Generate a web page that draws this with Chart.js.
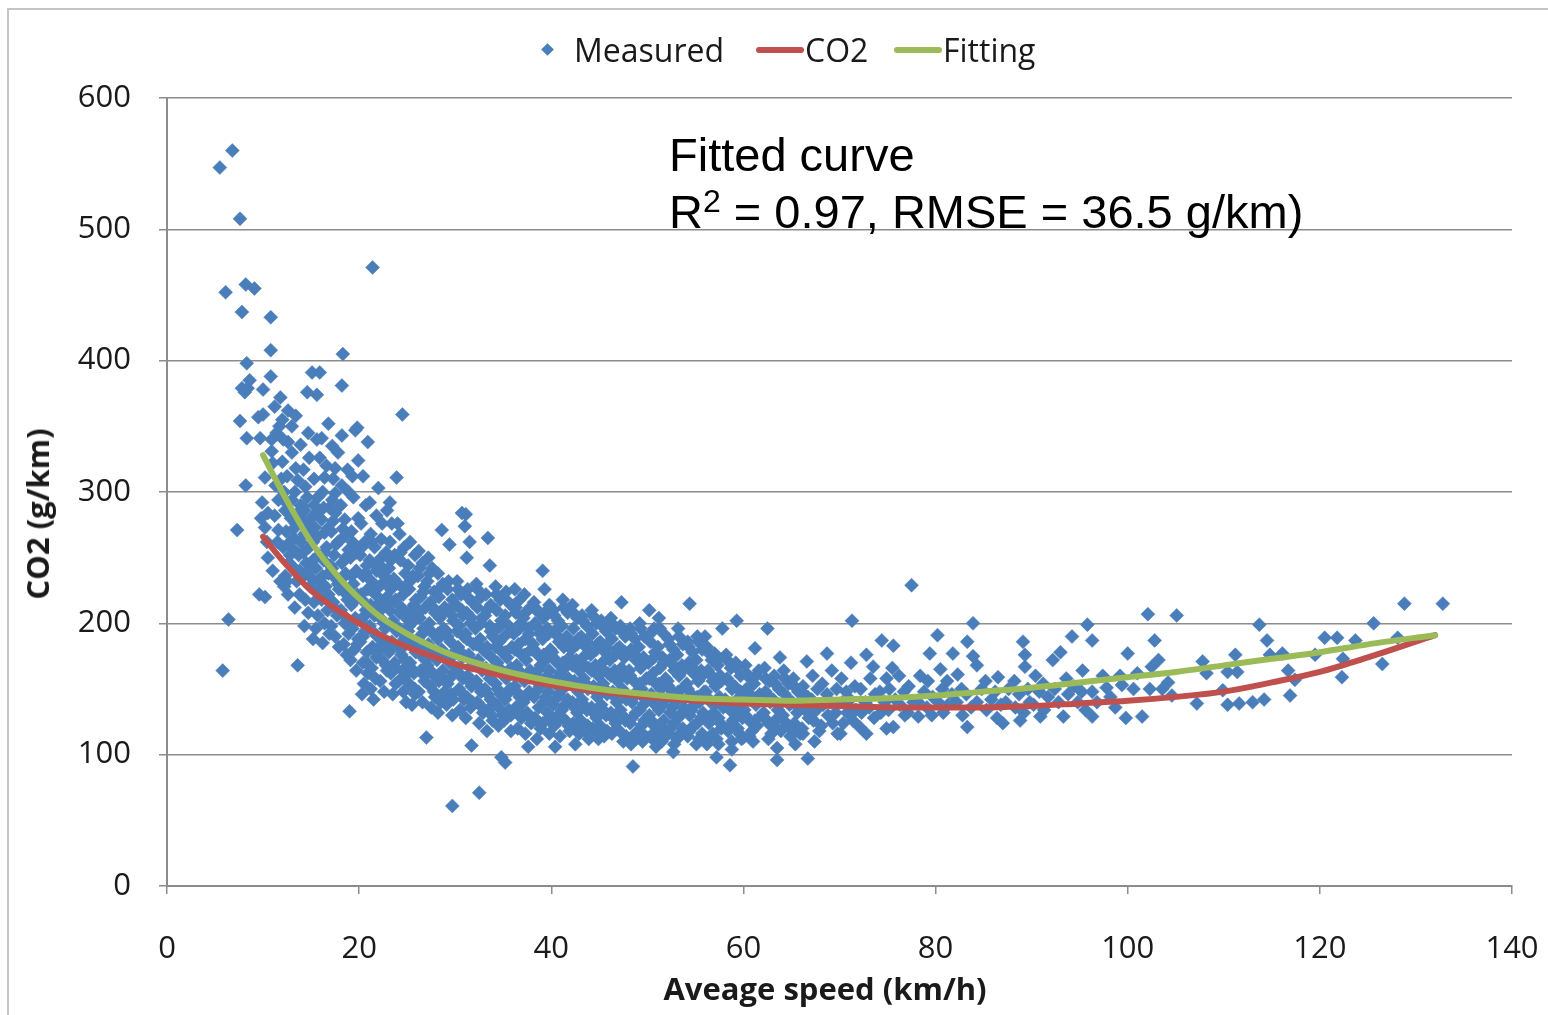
<!DOCTYPE html>
<html>
<head>
<meta charset="utf-8">
<script src="https://cdn.jsdelivr.net/npm/chart.js@4.4.0/dist/chart.umd.min.js"></script>
<style>
  body { margin:0; background:#fff; width:1548px; height:1015px; overflow:hidden; position:relative; font-family:"Open Sans", sans-serif; }
  #frame { position:absolute; left:7px; top:8px; width:1600px; height:1100px; border-top:2px solid #c4c4c4; border-left:2px solid #c4c4c4; }
  #chart { position:absolute; left:0; top:0; }
  .leg { position:absolute; top:30px; font-size:32px; line-height:40px; color:#1a1a1a; white-space:nowrap; }
  .swatch { position:absolute; top:47px; height:6px; border-radius:3px; }
  .note { position:absolute; left:669px; font-family:"Liberation Sans", Arial, sans-serif; font-size:47px; line-height:47px; color:#000; white-space:nowrap; }
  .note sup { font-size:32px; position:relative; top:-3px; vertical-align:top; line-height:32px; }
  .axis-title { position:absolute; font-size:31px; font-weight:bold; line-height:40px; color:#1a1a1a; white-space:nowrap; }
</style>
</head>
<body>
<div id="frame"></div>
<canvas id="chart" width="1548" height="1015"></canvas>

<!-- legende -->
<div style="position:absolute;left:542px;top:44px;width:12px;height:12px;">
  <div style="width:9px;height:9px;background:#4A7EBB;transform:rotate(45deg);margin:1px;"></div>
</div>
<div class="leg" style="left:574px;">Measured</div>
<div class="swatch" style="left:756px;width:48px;background:#C0504D;"></div>
<div class="leg" style="left:805px;">CO2</div>
<div class="swatch" style="left:894px;width:48px;background:#9BBB59;"></div>
<div class="leg" style="left:943px;">Fitting</div>

<!-- titres des axes -->
<div class="axis-title" style="left:825px;top:968px;transform:translateX(-50%);">Aveage speed (km/h)</div>
<div class="axis-title" style="left:37px;top:514px;transform:translate(-50%,-50%) rotate(-90deg);">CO2 (g/km)</div>

<!-- texte dans le graphique -->
<div class="note" style="top:131px;">Fitted curve</div>
<div class="note" style="top:188px;">R<sup>2</sup> = 0.97, RMSE = 36.5 g/km)</div>

<script>
// les courbes (vitesse en km/h, CO2 en g/km)
const curveSpeed   = [10, 12, 15, 18, 20, 22, 25, 28, 30, 35, 40, 45, 50, 55, 60, 65, 70, 75, 80, 85, 90, 95, 100, 105, 110, 115, 120, 125, 132];
const co2Curve     = [266, 248, 225, 209, 200, 192, 182, 174, 169, 160, 153, 148, 144, 141, 139, 138, 137, 136, 136, 136, 137, 139, 141, 144, 148, 155, 163, 174, 191];
const fittingCurve = [328, 300, 262, 234, 219, 206, 192, 181, 175, 164, 156, 150, 146, 143, 142, 141, 142, 143, 145, 148, 151, 155, 159, 163, 168, 173, 178, 184, 191];

// les mesures [vitesse, CO2]
const measured = [
  [5.5,547],[6.8,560],[7.6,508],[6.1,452],[8.2,458],[9.1,455],[7.8,437],[8.3,398],[7.8,379],[8.4,379],[8.1,376],[8.6,385],
  [7.6,354],[8.3,341],[8.2,305],[7.3,271],[6.4,203],[5.8,164],
  [10.8,433],[10.8,408],[10.8,388],[10.0,378],[9.5,357],[10.0,359],[11.2,365],[9.7,341],[10.9,340],[10.9,331],[10.2,311],
  [9.9,292],[10.5,284],[10.2,273],[11.6,294],[11.6,271],[10.2,220],[9.6,222],[10.5,250],[11.0,240],[11.5,262],[11.8,232],
  [11.3,305],[11.0,322],[11.7,350],[10.4,262],[11.2,282],[9.8,280],[11.9,310],
  [12.0,355],[12.6,338],[12.0,323],[12.3,286],[12.2,300],[12.4,270],[12.1,258],[12.7,246],[12.3,236],[12.8,262],[12.5,312],[12.9,280],[12.2,228],[12.6,222],
  [13.0,350],[13.0,330],[13.6,309],[13.0,294],[13.4,276],[13.2,265],[13.7,252],[13.1,243],[13.5,232],[13.8,222],[13.3,212],[13.6,168],[13.9,290],[13.4,318],[13.8,240],[13.2,256],
  [14.1,289],[14.4,304],[14.2,317],[14.6,376],[14.7,345],[14.3,268],[14.8,258],[14.5,246],[14.2,236],[14.9,228],[14.4,218],[14.7,208],[14.1,278],[14.9,270],[14.6,296],[14.3,198],
  [15.1,391],[15.6,374],[15.1,281],[15.4,273],[15.9,326],[15.7,296],[15.3,310],[15.2,262],[15.8,252],[15.5,242],[15.1,234],[15.9,226],[15.3,216],[15.7,206],[15.5,196],[15.2,188],[15.8,286],[15.6,340],
  [15.9,391],[16.1,341],[16.1,279],[16.4,311],[16.4,269],[16.2,300],[16.6,258],[16.3,248],[16.8,238],[16.5,228],[16.1,218],[16.7,210],[16.4,200],[16.9,192],[16.2,185],[16.6,320],[16.9,288],
  [17.2,335],[17.5,318],[17.5,299],[17.2,294],[17.5,284],[17.1,270],[17.8,262],[17.4,252],[17.0,244],[17.6,234],[17.9,226],[17.3,216],[17.7,206],[17.1,198],[17.5,190],[17.9,182],[17.3,310],
  [18.3,405],[18.2,381],[18.2,343],[18.8,317],[18.5,279],[18.1,290],[18.4,266],[18.9,256],[18.2,246],[18.6,238],[18.3,228],[18.8,218],[18.1,210],[18.5,200],[18.9,192],[18.4,184],[18.7,176],[18.2,305],
  [19.8,349],[19.9,324],[19.9,280],[19.6,347],[19.0,133],[19.2,270],[19.5,260],[19.1,250],[19.7,240],[19.4,230],[19.8,222],[19.2,214],[19.6,204],[19.3,196],[19.9,188],[19.5,180],[19.1,172],[19.7,164],[19.4,296],
  [20.2,276],[20.6,262],[20.1,252],[20.8,244],[20.4,236],[20.9,226],[20.3,218],[20.7,210],[20.2,202],[20.6,194],[20.1,186],[20.8,178],[20.4,170],[20.9,162],[20.5,154],[20.3,146],[20.7,290],
  [21.4,471],[21.2,268],[21.6,258],[21.1,248],[21.8,240],[21.3,232],[21.7,222],[21.2,214],[21.6,206],[21.1,198],[21.9,190],[21.4,182],[21.8,174],[21.3,166],[21.7,158],[21.2,150],[21.5,142],
  [22.0,303],[22.4,276],[22.3,264],[22.8,254],[22.2,244],[22.6,236],[22.1,228],[22.9,220],[22.5,212],[22.2,204],[22.7,196],[22.3,188],[22.8,180],[22.4,172],[22.9,164],[22.2,156],[22.6,148],
  [23.4,276],[23.9,311],[23.2,262],[23.7,252],[23.1,242],[23.6,234],[23.3,226],[23.8,218],[23.2,210],[23.5,202],[23.9,194],[23.4,186],[23.1,178],[23.7,170],[23.3,162],[23.8,154],[23.5,146],
  [24.0,276],[24.5,359],[24.2,268],[24.7,258],[24.3,248],[24.8,238],[24.1,230],[24.6,222],[24.4,212],[24.9,204],[24.2,196],[24.7,188],[24.3,180],[24.8,172],[24.5,164],[24.1,156],[24.6,148],[24.9,140],
  [25.3,262],[25.8,252],[25.1,244],[25.6,236],[25.2,226],[25.9,218],[25.4,210],[25.7,202],[25.1,194],[25.5,186],[25.9,178],[25.3,170],[25.7,162],[25.2,154],[25.8,146],[25.5,138],
  [26.2,255],[26.6,246],[26.1,236],[26.8,228],[26.4,220],[26.9,212],[26.3,204],[26.7,196],[26.1,188],[26.5,180],[26.9,172],[26.4,164],[26.8,156],[26.2,148],[26.6,140],
  [27.0,113],[27.2,250],[27.6,242],[27.1,232],[27.8,224],[27.4,216],[27.9,208],[27.3,200],[27.7,192],[27.2,184],[27.6,176],[27.1,168],[27.8,160],[27.4,152],[27.9,144],[27.5,136],
  [28.6,271],[28.2,238],[28.7,230],[28.3,220],[28.9,212],[28.4,204],[28.8,196],[28.2,188],[28.6,180],[28.1,172],[28.7,164],[28.3,156],[28.9,148],[28.5,140],[28.2,132],
  [29.7,61],[29.2,226],[29.7,218],[29.3,210],[29.8,202],[29.1,194],[29.5,186],[29.9,178],[29.4,170],[29.8,162],[29.2,154],[29.6,146],[29.1,138],[29.7,130],[29.4,260],
  [30.7,284],[31.0,274],[31.1,283],[30.2,232],[30.6,222],[30.1,214],[30.8,206],[30.4,198],[30.9,190],[30.3,182],[30.7,174],[30.2,166],[30.8,158],[30.4,150],[30.9,142],[30.5,134],
  [31.7,107],[31.3,226],[31.8,216],[31.2,208],[31.6,200],[31.1,192],[31.9,184],[31.4,176],[31.8,168],[31.3,160],[31.7,152],[31.2,144],[31.6,136],[31.1,128],[31.5,262],[31.2,250],
  [32.5,71],[33.4,265],[33.6,244],[32.2,230],[32.7,220],[32.3,212],[32.8,204],[32.1,196],[32.6,188],[32.9,180],[32.4,172],[32.8,164],[32.2,156],[32.7,148],[32.3,140],[32.9,132],[32.5,124],
  [33.2,222],[33.7,214],[33.1,206],[33.6,198],[33.9,190],[33.3,182],[33.8,174],[33.2,166],[33.6,158],[33.1,150],[33.7,142],[33.4,134],[33.9,126],[33.3,118],
  [34.8,98],[35.2,94],[34.2,228],[34.7,218],[34.3,210],[34.8,202],[34.1,194],[34.6,186],[34.9,178],[34.4,170],[34.8,162],[34.2,154],[34.7,146],[34.3,138],[34.9,130],[34.5,122],
  [35.3,224],[35.8,214],[35.2,206],[35.6,198],[35.1,190],[35.9,182],[35.4,174],[35.8,166],[35.3,158],[35.7,150],[35.2,142],[35.6,134],[35.1,126],[35.8,118],
  [37.6,106],[36.2,226],[36.7,218],[36.3,208],[36.8,200],[36.1,192],[36.6,184],[36.9,176],[36.4,168],[36.8,160],[36.2,152],[36.7,144],[36.3,136],[36.9,128],[36.5,120],
  [37.2,222],[37.8,212],[37.1,204],[37.6,196],[37.3,188],[37.9,180],[37.4,172],[37.8,164],[37.2,156],[37.7,148],[37.1,140],[37.5,132],[37.9,124],[37.3,116],
  [39.1,240],[38.2,216],[38.7,208],[38.3,200],[38.8,192],[38.1,184],[38.6,176],[38.9,168],[38.4,160],[38.8,152],[38.2,144],[38.7,136],[38.3,128],[38.9,120],[38.5,112],
  [39.3,226],[39.8,214],[39.2,204],[39.6,196],[39.1,188],[39.9,180],[39.4,172],[39.8,164],[39.3,156],[39.7,148],[39.2,140],[39.6,132],[39.1,124],[39.8,116],
  [40.4,106],[40.2,210],[40.7,202],[40.3,194],[40.8,186],[40.1,178],[40.6,170],[40.9,162],[40.4,154],[40.8,146],[40.2,138],[40.7,130],[40.3,122],[40.9,114],
  [41.2,218],[41.7,208],[41.1,198],[41.6,190],[41.3,182],[41.9,174],[41.4,166],[41.8,158],[41.2,150],[41.7,142],[41.1,134],[41.5,126],[41.9,118],
  [42.2,214],[42.7,204],[42.3,196],[42.8,188],[42.1,180],[42.6,172],[42.9,164],[42.4,156],[42.8,148],[42.2,140],[42.7,132],[42.3,124],[42.9,116],[42.5,108],
  [43.2,206],[43.7,198],[43.1,190],[43.6,182],[43.3,174],[43.9,166],[43.4,158],[43.8,150],[43.2,142],[43.7,134],[43.1,126],[43.5,118],[43.9,112],
  [44.2,210],[44.7,200],[44.3,192],[44.8,184],[44.1,176],[44.6,168],[44.9,160],[44.4,152],[44.8,144],[44.2,136],[44.7,128],[44.3,120],[44.9,112],
  [45.2,202],[45.7,194],[45.1,186],[45.6,178],[45.3,170],[45.9,162],[45.4,154],[45.8,146],[45.2,138],[45.7,130],[45.1,122],[45.5,114],
  [47.3,216],[46.2,204],[46.7,196],[46.3,188],[46.8,180],[46.1,172],[46.6,164],[46.9,156],[46.4,148],[46.8,140],[46.2,132],[46.7,124],[46.3,116],
  [47.2,198],[47.7,190],[47.1,182],[47.6,174],[47.3,166],[47.9,158],[47.4,150],[47.8,142],[47.2,134],[47.7,126],[47.1,118],[47.5,110],
  [48.5,91],[48.2,196],[48.7,188],[48.3,180],[48.8,172],[48.1,164],[48.6,156],[48.9,148],[48.4,140],[48.8,132],[48.2,124],[48.7,116],[48.3,108],
  [49.2,200],[49.7,190],[49.1,182],[49.6,174],[49.3,166],[49.9,158],[49.4,150],[49.8,142],[49.2,134],[49.7,126],[49.1,118],[49.5,110],
  [50.2,210],[50.7,196],[50.3,186],[50.8,178],[50.1,170],[50.6,162],[50.9,154],[50.4,146],[50.8,138],[50.2,130],[50.7,122],[50.3,114],[50.9,106],
  [51.2,204],[51.7,192],[51.1,182],[51.6,174],[51.3,166],[51.9,158],[51.4,150],[51.8,142],[51.2,134],[51.7,126],[51.1,118],[51.5,110],
  [52.2,188],[52.7,180],[52.3,172],[52.8,164],[52.1,156],[52.6,148],[52.9,140],[52.4,132],[52.8,124],[52.2,116],[52.7,102],
  [53.2,196],[53.7,184],[53.1,176],[53.6,168],[53.3,160],[53.9,152],[53.4,144],[53.8,136],[53.2,128],[53.7,120],[53.1,112],
  [54.4,215],[54.2,186],[54.7,178],[54.3,170],[54.8,162],[54.1,154],[54.6,146],[54.9,138],[54.4,130],[54.8,122],[54.2,114],
  [55.2,190],[55.7,180],[55.1,172],[55.6,164],[55.3,156],[55.9,148],[55.4,140],[55.8,132],[55.2,124],[55.7,116],[55.1,108],
  [56.0,190],[57.0,177],[57.8,196],[57.2,98],[56.2,182],[56.7,172],[56.3,164],[56.8,156],[56.1,148],[56.6,140],[56.9,132],[56.4,124],[56.8,116],[56.2,108],
  [57.3,168],[57.6,160],[57.1,152],[57.5,144],[57.9,136],[57.4,128],[57.7,120],[57.2,112],
  [59.3,202],[58.8,104],[58.6,92],[58.2,176],[58.7,166],[58.3,158],[58.8,150],[58.1,142],[58.6,134],[58.9,126],[58.4,118],[58.8,110],
  [59.2,170],[59.7,160],[59.1,152],[59.6,144],[59.3,136],[59.9,128],[59.4,120],[59.8,112],
  [60.0,113],[61.0,110],[61.2,181],[60.2,168],[60.7,158],[60.3,150],[60.8,142],[60.1,134],[60.6,126],[60.9,118],[61.6,164],[61.1,154],[61.7,146],[61.3,138],[61.9,130],[61.4,122],
  [62.5,196],[63.8,174],[63.5,105],[63.5,96],[62.2,166],[62.7,156],[62.3,148],[62.8,140],[62.1,132],[62.6,124],[62.9,116],[63.2,160],[63.7,150],[63.1,142],[63.6,134],[63.3,126],[63.9,118],
  [64.2,164],[64.7,154],[64.3,146],[64.8,138],[64.1,130],[64.6,122],[64.9,114],[65.2,158],[65.7,148],[65.1,140],[65.6,132],[65.3,124],[65.9,116],[65.4,108],
  [66.6,171],[66.7,97],[67.4,110],[66.2,152],[66.7,144],[66.3,136],[66.8,128],[66.1,120],[67.2,160],[67.7,150],[67.1,142],[67.6,134],[67.3,126],[67.9,118],
  [68.7,177],[68.2,154],[68.7,146],[68.3,138],[68.8,130],[68.1,122],[69.2,164],[69.7,150],[69.1,140],[69.6,132],[69.3,124],[69.8,116],
  [70.1,116],[71.3,202],[70.2,158],[70.7,148],[70.3,140],[70.8,132],[70.4,124],[71.2,170],[71.6,152],[71.1,142],[71.7,134],[71.4,126],
  [72.8,176],[73.5,167],[72.1,121],[72.8,116],[72.2,150],[72.7,140],[72.3,132],[73.2,158],[73.7,146],[73.1,136],[73.6,128],
  [74.4,187],[75.6,183],[75.5,166],[74.9,158],[74.9,120],[75.6,121],[74.2,148],[74.7,140],[74.3,132],[75.2,150],[75.8,142],[75.1,134],
  [77.5,229],[76.2,160],[76.7,148],[76.3,138],[76.8,130],[77.2,152],[77.7,140],[77.1,132],
  [78.2,129],[79.4,177],[78.4,160],[78.8,148],[78.2,140],[79.2,156],[79.7,144],[79.1,136],[79.6,130],
  [80.2,191],[80.5,165],[81.8,177],[80.7,150],[80.3,140],[80.8,132],[81.2,156],[81.7,146],[81.3,138],
  [82.3,161],[83.9,200],[83.3,186],[83.9,175],[84.3,168],[83.3,121],[82.7,150],[82.2,140],[82.8,130],[83.2,146],[83.7,136],
  [84.8,150],[84.3,140],[85.2,156],[85.8,142],[85.3,134],[86.5,159],[86.2,148],[86.8,138],[86.4,128],
  [87.0,124],[88.8,126],[89.1,186],[89.3,176],[89.3,167],[87.6,150],[87.3,140],[88.2,156],[88.7,146],[88.3,136],[89.6,150],[89.8,140],[89.2,132],
  [90.9,129],[92.2,172],[90.4,160],[90.8,148],[90.2,138],[91.2,154],[91.7,144],[91.3,134],[92.4,150],[92.8,140],
  [93.0,178],[93.3,129],[94.2,190],[95.8,199],[95.3,164],[93.6,158],[93.8,146],[94.4,152],[94.8,140],[95.2,148],[95.6,134],
  [96.3,187],[96.3,148],[96.3,129],[97.8,151],[98.7,136],[99.4,153],[100.0,177],[101.0,162],[101.5,129],[96.8,140],[97.4,160],[98.2,144],[99.8,128],[100.6,150],[99.2,160],
  [102.1,207],[102.8,187],[103.2,172],[102.5,167],[104.2,155],[105.1,206],[103.6,150],[104.6,145],[102.3,150],
  [107.2,139],[107.8,171],[108.2,162],[109.9,149],[110.4,163],[111.2,176],[111.4,163],[110.4,138],[111.6,139],
  [113.0,140],[114.2,142],[113.7,199],[114.5,187],[114.8,176],[116.1,177],[116.7,164],[117.4,157],[116.9,145],
  [119.5,176],[120.5,189],[121.8,189],[122.4,173],[122.3,159],[123.7,187],[125.6,200],[126.5,169],[128.1,189],[128.8,215],[132.8,215]
];

// les mesures du noyau dense du nuage
const measuredCore = [
  [11.4,345],[12.1,340],[11.8,372],[12.6,362],[13.4,358],[13.9,336],[14.8,326],[16.8,352],[17.8,330],[18.9,300],[19.3,312],[20.4,312],[21.1,292],[21.8,282],[22.9,286],[20.9,338],[23.2,292],
  [12.4,292],[12.8,252],[12.5,232],[13.3,300],[13.6,284],[13.2,272],[13.9,262],[14.3,286],[14.6,276],[14.2,254],[14.8,240],[15.3,290],[15.6,266],[15.2,248],[15.8,232],
  [16.3,288],[16.7,272],[16.4,254],[16.2,236],[16.8,222],[17.3,278],[17.6,260],[17.2,242],[17.8,230],[17.4,212],[18.3,272],[18.6,250],[18.2,234],[18.7,222],[18.4,206],
  [19.3,262],[19.7,254],[19.2,236],[19.6,218],[19.4,200],[19.8,184],
  [20.3,258],[20.7,238],[20.2,222],[20.6,206],[20.4,190],[20.8,170],[21.3,262],[21.7,244],[21.2,226],[21.6,210],[21.4,194],[21.8,178],
  [22.3,250],[22.7,232],[22.2,216],[22.6,200],[22.4,184],[22.8,168],[23.3,248],[23.7,230],[23.2,214],[23.6,198],[23.4,182],[23.8,166],
  [24.3,254],[24.7,226],[24.2,208],[24.6,192],[24.4,176],[24.8,160],[25.3,232],[25.7,214],[25.2,198],[25.6,182],[25.4,166],[25.8,150],
  [26.3,242],[26.7,224],[26.2,208],[26.6,192],[26.4,176],[26.8,160],[27.3,238],[27.7,212],[27.2,196],[27.6,180],[27.4,164],[27.8,148],
  [28.3,226],[28.7,208],[28.2,192],[28.6,176],[28.4,160],[28.8,144],[29.3,232],[29.7,206],[29.2,190],[29.6,174],[29.4,158],[29.8,142],
  [30.3,226],[30.7,210],[30.2,194],[30.6,178],[30.4,162],[30.8,146],[31.3,220],[31.7,204],[31.2,188],[31.6,172],[31.4,156],[31.8,140],
  [32.3,226],[32.7,200],[32.2,184],[32.6,168],[32.4,152],[32.8,136],[33.3,210],[33.7,194],[33.2,178],[33.6,162],[33.4,146],[33.8,130],
  [34.3,222],[34.7,198],[34.2,182],[34.6,166],[34.4,150],[34.8,134],[35.3,218],[35.7,194],[35.2,178],[35.6,162],[35.4,146],[35.8,130],
  [36.3,212],[36.7,196],[36.2,180],[36.6,164],[36.4,148],[36.8,132],[37.3,208],[37.7,192],[37.2,176],[37.6,160],[37.4,144],[37.8,128],
  [38.3,212],[38.7,196],[38.2,180],[38.6,164],[38.4,148],[38.8,124],[39.3,208],[39.7,192],[39.2,176],[39.6,160],[39.4,144],[39.8,128],
  [40.3,206],[40.7,190],[40.2,174],[40.6,158],[40.4,142],[40.8,126],[41.3,212],[41.7,186],[41.2,170],[41.6,154],[41.4,138],[41.8,122],
  [42.3,208],[42.7,184],[42.2,168],[42.6,152],[42.4,136],[42.8,120],[43.3,202],[43.7,186],[43.2,170],[43.6,154],[43.4,138],[43.8,122],
  [44.3,206],[44.7,180],[44.2,164],[44.6,148],[44.4,132],[44.8,116],[45.3,198],[45.7,182],[45.2,166],[45.6,150],[45.4,134],[45.8,118],
  [46.3,200],[46.7,176],[46.2,160],[46.6,144],[46.4,128],[46.8,120],[47.3,194],[47.7,178],[47.2,162],[47.6,146],[47.4,130],[47.8,114],
  [48.3,192],[48.7,176],[48.2,160],[48.6,144],[48.4,128],[48.8,112],[49.3,196],[49.7,170],[49.2,154],[49.6,138],[49.4,122],[49.8,114],
  [50.3,192],[50.7,174],[50.2,158],[50.6,142],[50.4,126],[50.8,110],[51.3,196],[51.7,170],[51.2,154],[51.6,138],[51.4,122],[51.8,114],
  [52.3,184],[52.7,168],[52.2,152],[52.6,136],[52.4,120],[52.8,108],[53.3,190],[53.7,164],[53.2,148],[53.6,132],[53.4,116],
  [54.3,182],[54.7,166],[54.2,150],[54.6,134],[54.4,118],[55.3,186],[55.7,160],[55.2,144],[55.6,128],[55.4,112],
  [56.3,178],[56.7,160],[56.2,144],[56.6,128],[56.4,112],[57.3,172],[57.7,156],[57.2,140],[57.6,124],[57.4,108],
  [58.3,172],[58.7,154],[58.2,138],[58.6,122],[59.3,166],[59.7,148],[59.2,132],[59.6,116],
  [60.3,162],[60.7,146],[60.2,130],[60.6,114],[61.3,160],[61.7,142],[61.2,126],[62.3,158],[62.7,144],[62.2,128],[62.6,112],
  [63.3,154],[63.7,138],[63.2,122],[64.3,158],[64.7,142],[64.2,126],[65.3,152],[65.7,136],[65.2,120],[66.3,146],[66.7,132],[66.2,116]
];

const textColor = '#1a1a1a';
const gridColor = '#8c8c8c';

const toPoints = (xs, ys) => xs.map((x, i) => ({x: x, y: ys[i]}));
const allMeasured = measured.concat(measuredCore).map(p => ({x: p[0], y: p[1]}));

const ctx = document.getElementById('chart').getContext('2d');
const myChart = new Chart(ctx, {
  type: 'scatter',
  data: {
    datasets: [
      {
        label: 'Fitting',
        data: toPoints(curveSpeed, fittingCurve),
        showLine: true,
        borderColor: '#9BBB59',
        borderWidth: 6,
        pointRadius: 0,
        cubicInterpolationMode: 'monotone',
        borderCapStyle: 'round',
        order: 0
      },
      {
        label: 'CO2',
        data: toPoints(curveSpeed, co2Curve),
        showLine: true,
        borderColor: '#C0504D',
        borderWidth: 6,
        pointRadius: 0,
        cubicInterpolationMode: 'monotone',
        borderCapStyle: 'round',
        order: 1
      },
      {
        label: 'Measured',
        data: allMeasured,
        pointStyle: 'rectRot',
        pointRadius: 7,
        backgroundColor: '#4A7EBB',
        borderColor: '#4A7EBB',
        borderWidth: 0.5,
        order: 2
      }
    ]
  },
  options: {
    responsive: false,
    animation: false,
    devicePixelRatio: 1,
    layout: { padding: { top: 98, right: 36, bottom: 0, left: 0 } },
    plugins: { legend: { display: false }, tooltip: { enabled: false } },
    scales: {
      x: {
        type: 'linear', min: 0, max: 140,
        afterFit: (s) => { s.height = 129; s.paddingLeft = 0; s.paddingRight = 0; },
        ticks: { stepSize: 20, padding: 37, color: textColor, font: { family: 'Open Sans', size: 31 } },
        grid: { drawOnChartArea: false, drawTicks: true, tickLength: 8, color: gridColor, lineWidth: 1.5 },
        border: { display: true, color: gridColor, width: 2 }
      },
      y: {
        type: 'linear', min: 0, max: 600,
        afterFit: (s) => { s.width = 167; s.paddingTop = 0; s.paddingBottom = 0; },
        ticks: { stepSize: 100, padding: 28, color: textColor, font: { family: 'Open Sans', size: 31 } },
        grid: { drawTicks: true, tickLength: 8, color: gridColor, lineWidth: 1.5 },
        border: { display: true, color: gridColor, width: 2 }
      }
    }
  }
});
</script>
</body>
</html>
